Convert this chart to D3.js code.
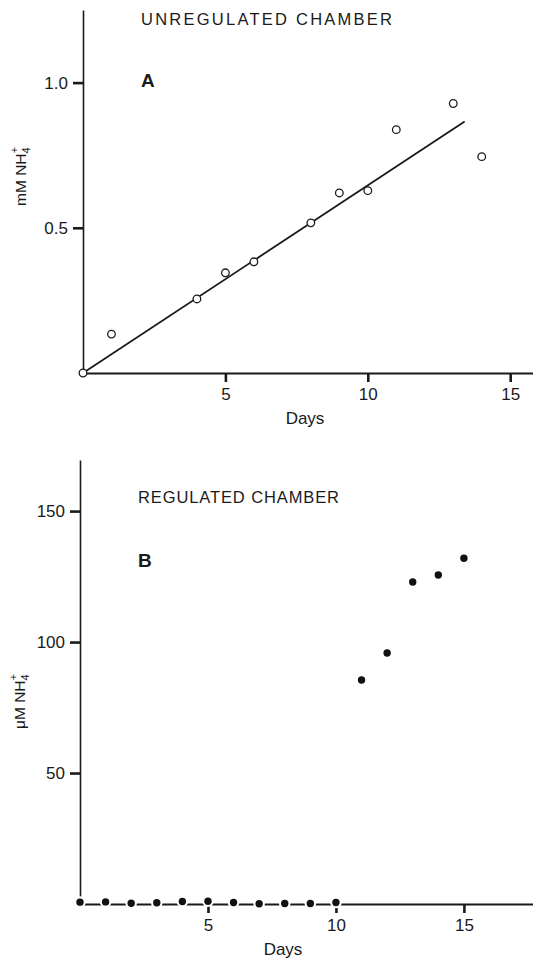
<!DOCTYPE html>
<meta charset="utf-8">
<style>
body{ margin:0; background:#fff; }
svg text{ font-family:"Liberation Sans", Arial, sans-serif; fill:#1a1a1a; }
.axis path, .axis line{ stroke:#1a1a1a; }
.axis text{ font-size:17px; }
</style>
<body>
<div id="chart"></div>
<script src="https://cdn.jsdelivr.net/npm/d3@7"></script>
<script>
// panel A - unregulated chamber, mM NH4+
var daysA = [0, 1, 4, 5, 6, 8, 9, 10, 11, 13, 14];
var valuesA = [0, 0.134, 0.255, 0.345, 0.383, 0.517, 0.62, 0.628, 0.838, 0.928, 0.745];
var fitDays = [0, 13.4];
var fitValues = [0, 0.866];
var yTicksA = [0.5, 1.0];

// panel B - regulated chamber, uM NH4+
var daysB = [0, 1, 2, 3, 4, 5, 6, 7, 8, 9, 10, 11, 12, 13, 14, 15];
var valuesB = [0.7, 0.8, 0.3, 0.45, 0.95, 1.05, 0.6, 0.1, 0.2, 0.2, 0.6, 85.5, 95.8, 122.9, 125.6, 132];
var yTicksB = [50, 100, 150];

var xTicks = [5, 10, 15];

var W = 533, H = 958;
var svg = d3.select("#chart").append("svg").attr("width", W).attr("height", H);

function panel(cfg){
	var g = svg.append("g");
	var x = d3.scaleLinear().domain([0, cfg.xmax]).range([cfg.left, W]);
	var y = d3.scaleLinear().domain([0, cfg.ymax]).range([cfg.bottom, cfg.top]);

	var yAxis = g.append("g").attr("class", "axis")
		.attr("transform", "translate(" + cfg.left + ",0)")
		.call(d3.axisLeft(y).tickValues(cfg.yTicks).tickFormat(cfg.fmt).tickSize(10).tickSizeOuter(0).tickPadding(5));
	yAxis.select(".domain").attr("stroke-width", 1.6);
	yAxis.selectAll(".tick line").attr("stroke-width", 2.6);

	var xAxis = g.append("g").attr("class", "axis")
		.attr("transform", "translate(0," + cfg.bottom + ")")
		.call(d3.axisBottom(x).tickValues(xTicks).tickSize(9).tickSizeOuter(0).tickPadding(6));
	xAxis.select(".domain").attr("stroke-width", 1.8);
	xAxis.selectAll(".tick line").attr("stroke-width", 2.6);

	g.append("text").attr("x", cfg.daysX).attr("y", cfg.bottom + 51)
		.attr("text-anchor", "middle").style("font-size", "17px").text("Days");

	g.append("text").attr("x", cfg.titleX).attr("y", cfg.titleY)
		.attr("textLength", cfg.titleW).attr("lengthAdjust", "spacing")
		.style("font-size", "16.5px").text(cfg.title);
	g.append("text").attr("x", cfg.titleX).attr("y", cfg.letterY)
		.style("font-size", "19px").style("font-weight", "bold").text(cfg.letter);

	var lab = g.append("text")
		.attr("transform", "translate(" + cfg.labX + "," + cfg.labY + ") rotate(-90)")
		.style("font-size", "15.5px");
	lab.append("tspan").text(cfg.unit + " NH");
	lab.append("tspan").attr("dy", 4).style("font-size", "11px").text("4");
	lab.append("tspan").attr("dx", -6).attr("dy", -12).style("font-size", "11px").text("+");

	return {g: g, x: x, y: y};
}

var A = panel({left: 83, bottom: 373, top: 10, xmax: 15.8, ymax: 1.25, yTicks: yTicksA,
	fmt: d3.format(".1f"), daysX: 305, title: "UNREGULATED CHAMBER", titleX: 141, titleY: 25, titleW: 251,
	letter: "A", letterY: 87, labX: 26, labY: 206, unit: "mM"});

A.g.append("path")
	.datum(d3.zip(fitDays, fitValues))
	.attr("fill", "none").attr("stroke", "#1a1a1a").attr("stroke-width", 1.8)
	.attr("d", d3.line().x(function(d){ return A.x(d[0]); }).y(function(d){ return A.y(d[1]); }));

A.g.selectAll(".ptA").data(d3.zip(daysA, valuesA)).enter().append("circle")
	.attr("class", "ptA")
	.attr("cx", function(d){ return A.x(d[0]); })
	.attr("cy", function(d){ return A.y(d[1]); })
	.attr("r", 3.8).attr("fill", "#fff").attr("stroke", "#1a1a1a").attr("stroke-width", 1.3);

var B = panel({left: 80, bottom: 904, top: 460, xmax: 17.7, ymax: 169.5, yTicks: yTicksB,
	fmt: d3.format("d"), daysX: 283, title: "REGULATED CHAMBER", titleX: 138, titleY: 503, titleW: 201,
	letter: "B", letterY: 567, labX: 25, labY: 729, unit: "μM"});

var ptsB = d3.zip(daysB, valuesB);
// white halo behind the dots sitting on the axis
B.g.selectAll(".haloB").data(ptsB.filter(function(d){ return d[1] < 5; })).enter().append("circle")
	.attr("class", "haloB")
	.attr("cx", function(d){ return B.x(d[0]); })
	.attr("cy", function(d){ return B.y(d[1]); })
	.attr("r", 5.8).attr("fill", "#fff");

B.g.selectAll(".ptB").data(ptsB).enter().append("circle")
	.attr("class", "ptB")
	.attr("cx", function(d){ return B.x(d[0]); })
	.attr("cy", function(d){ return B.y(d[1]); })
	.attr("r", 3.7).attr("fill", "#111");
</script>
</body>
